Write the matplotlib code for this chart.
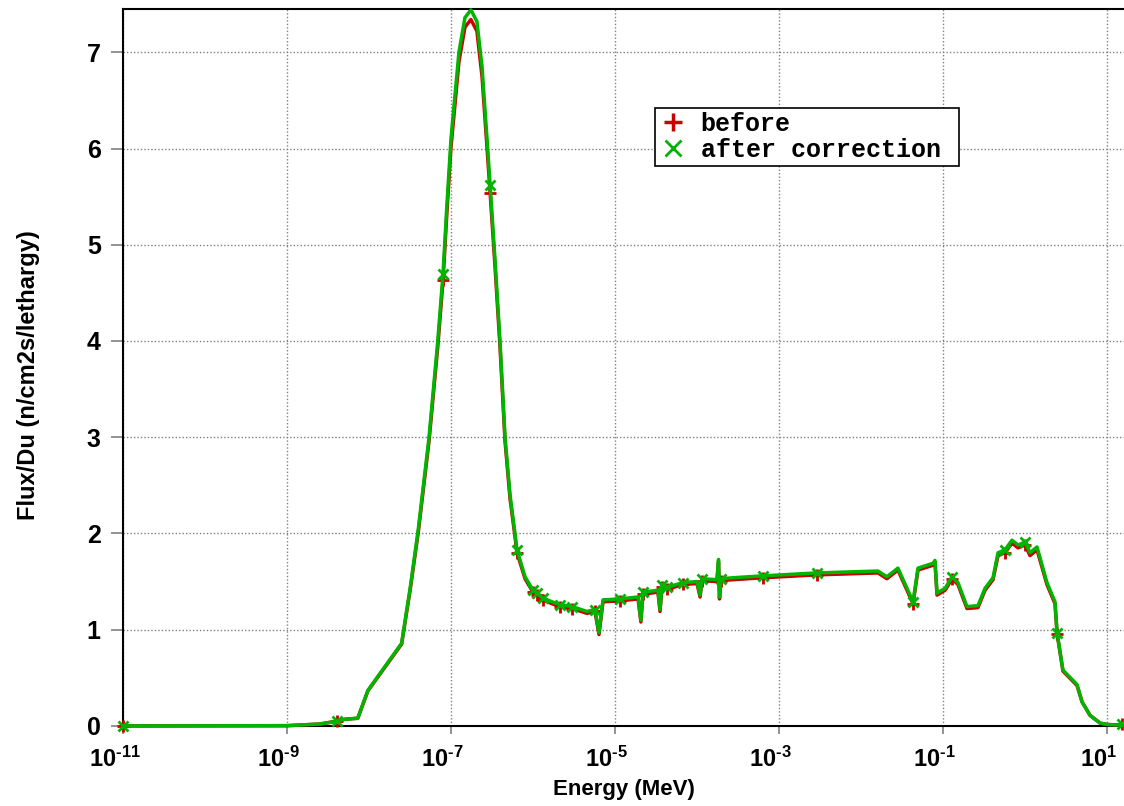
import math
import matplotlib
matplotlib.use('Agg')
import matplotlib.pyplot as plt
from matplotlib.lines import Line2D
from matplotlib.ticker import FixedLocator, FuncFormatter, NullLocator
from matplotlib.transforms import ScaledTranslation

# energie in MeV
energy = [1e-11, 1e-9, 2.5e-9, 4.1e-9, 5.1e-9, 7.3e-9, 9.7e-9, 2.5e-8, 3.2e-8, 4.0e-8,
          5.4e-8, 6.9e-8, 8.0e-8, 8.9e-8, 1.0e-7, 1.25e-7, 1.48e-7, 1.75e-7, 2.07e-7, 2.39e-7,
          2.75e-7, 3.0e-7, 3.44e-7, 3.96e-7, 4.56e-7, 5.25e-7, 6.03e-7, 6.38e-7, 8.0e-7, 1.0e-6,
          1.12e-6, 1.32e-6, 1.71e-6, 2.13e-6, 3.0e-6, 4.56e-6, 5.7e-6, 6.38e-6, 7.14e-6, 1.15e-5,
          1.91e-5, 2.07e-5, 2.19e-5, 3.34e-5, 3.54e-5, 3.74e-5, 4.31e-5, 6.75e-5, 1.0e-4, 1.09e-4,
          1.15e-4, 1.75e-4, 1.83e-4, 1.88e-4, 1.96e-4, 2.75e-4, 6.4e-4, 2.9e-3, 1.61e-2, 2.07e-2,
          2.82e-2, 4.31e-2, 4.95e-2, 7.55e-2, 7.98e-2, 8.45e-2, 0.106, 0.129, 0.152, 0.196,
          0.267, 0.325, 0.407, 0.469, 0.570, 0.694, 0.822, 1.00, 1.15, 1.40,
          1.85, 2.32, 2.46, 2.90, 4.31, 4.96, 6.21, 8.22, 10.0, 14.4,
          15.3]

before = [0.00, 0.003, 0.02, 0.05, 0.07, 0.08, 0.365, 0.85, 1.43, 2.02,
          2.96, 3.94, 4.63, 5.32, 6.01, 6.90, 7.26, 7.34, 7.22, 6.75,
          6.01, 5.54, 4.78, 3.94, 2.96, 2.36, 1.97, 1.80, 1.53, 1.39,
          1.36, 1.31, 1.27, 1.24, 1.22, 1.17, 1.19, 0.95, 1.29, 1.30,
          1.32, 1.08, 1.37, 1.39, 1.19, 1.44, 1.42, 1.47, 1.48, 1.34,
          1.51, 1.50, 1.70, 1.32, 1.51, 1.52, 1.54, 1.57, 1.59, 1.53,
          1.62, 1.27, 1.62, 1.67, 1.70, 1.36, 1.41, 1.53, 1.47, 1.22,
          1.23, 1.41, 1.52, 1.77, 1.80, 1.90, 1.85, 1.88, 1.77, 1.83,
          1.47, 1.27, 0.96, 0.57, 0.42, 0.25, 0.11, 0.03, 0.015, 0.01,
          0.02]

after = [0.00, 0.003, 0.02, 0.05, 0.07, 0.08, 0.37, 0.86, 1.45, 2.05,
         3.00, 4.00, 4.70, 5.40, 6.10, 7.00, 7.36, 7.44, 7.32, 6.85,
         6.10, 5.62, 4.85, 4.00, 3.00, 2.40, 2.00, 1.83, 1.55, 1.41,
         1.38, 1.33, 1.29, 1.26, 1.24, 1.19, 1.21, 0.97, 1.31, 1.32,
         1.34, 1.10, 1.39, 1.41, 1.21, 1.46, 1.44, 1.49, 1.50, 1.36,
         1.53, 1.52, 1.73, 1.34, 1.53, 1.54, 1.56, 1.59, 1.61, 1.55,
         1.64, 1.29, 1.64, 1.69, 1.72, 1.38, 1.43, 1.55, 1.49, 1.24,
         1.25, 1.43, 1.54, 1.80, 1.83, 1.93, 1.88, 1.91, 1.80, 1.86,
         1.49, 1.29, 0.97, 0.58, 0.43, 0.25, 0.11, 0.03, 0.015, 0.01,
         0.02]

# punten met een markering
marked = [0, 3, 12, 21, 27, 29, 30, 31, 33, 34, 36, 39, 42, 45, 46, 47, 50,
          54, 56, 57, 61, 67, 74, 77, 82, 90]

x_ticks = [1e-11, 1e-9, 1e-7, 1e-5, 1e-3, 1e-1, 1e1]
y_ticks = [0, 1, 2, 3, 4, 5, 6, 7]

red = '#cc0000'
green = '#00b400'

plt.rcParams['font.family'] = 'Liberation Sans'
plt.rcParams['mathtext.fontset'] = 'custom'
plt.rcParams['mathtext.rm'] = 'Liberation Sans:bold'
plt.rcParams['mathtext.it'] = 'Liberation Sans:bold'
plt.rcParams['mathtext.bf'] = 'Liberation Sans:bold'

fig = plt.figure(figsize=(11.24, 8.06), dpi=100)
ax = fig.add_axes([0.1094, 0.0993, 0.8906, 0.8896])

ax.plot(energy, before, color=red, lw=2.5, marker='+', ms=9, mew=2,
        markevery=marked, clip_on=False, zorder=3)
ax.plot(energy, after, color=green, lw=2.5, marker='x', ms=7, mew=2,
        markevery=marked, clip_on=False, zorder=4)

ax.set_xscale('log')
ax.set_xlim(1e-11, 10 ** 1.207)
ax.set_ylim(0, 7.45)


def exp_label(v, p):
    return r'$10^{\text{%d}}$' % round(math.log10(v))


ax.xaxis.set_major_locator(FixedLocator(x_ticks))
ax.xaxis.set_minor_locator(NullLocator())
ax.xaxis.set_major_formatter(FuncFormatter(exp_label))
ax.yaxis.set_major_locator(FixedLocator(y_ticks))

ax.tick_params(axis='x', direction='out', length=6, width=1.2, color='#808080',
               pad=9, labelsize=17)
ax.tick_params(axis='y', direction='out', length=9, width=1.2, color='#808080',
               pad=7, labelsize=18)
for lab in ax.get_yticklabels():
    lab.set_fontweight('bold')

# labels iets naar links, zoals in het origineel
shift = ScaledTranslation(-6 / 72, 0, fig.dpi_scale_trans)
for tick in ax.xaxis.get_major_ticks():
    tick.label1.set_transform(tick.label1.get_transform() + shift)

ax.grid(True, color='#808080', linestyle=(0, (1, 1.5)), linewidth=1)
ax.set_axisbelow(True)

ax.spines['right'].set_visible(False)
for s in ['left', 'top', 'bottom']:
    ax.spines[s].set_color('black')
    ax.spines[s].set_linewidth(1.5)

ax.set_xlabel('Energy (MeV)', fontsize=16, fontweight='bold', labelpad=5)
ax.set_ylabel('Flux/Du (n/cm2s/lethargy)', fontsize=17, fontweight='bold', labelpad=34)
ax.yaxis.label.set_y(0.49)

handles = [Line2D([], [], color=red, marker='+', ls='none', ms=13, mew=2.5),
           Line2D([], [], color=green, marker='x', ls='none', ms=11, mew=2)]
leg = ax.legend(handles, ['before', 'after correction '], loc='upper left',
                bbox_to_anchor=(0.531, 0.862), borderaxespad=0, frameon=True,
                fancybox=False, edgecolor='black', framealpha=1,
                prop={'family': 'Liberation Mono', 'weight': 'bold', 'size': 18},
                handlelength=1.14, handletextpad=0.55, borderpad=0.15, labelspacing=0.1)
leg.get_frame().set_linewidth(1.2)

plt.savefig('out.png', dpi=100)
